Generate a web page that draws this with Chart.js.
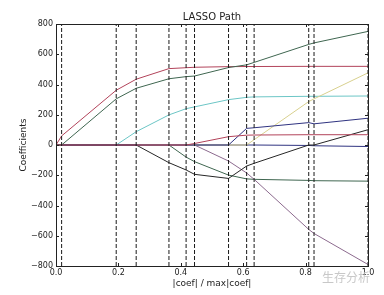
<!DOCTYPE html>
<html><head><meta charset="utf-8">
<script src="https://cdn.jsdelivr.net/npm/chart.js@4/dist/chart.umd.min.js"></script>
<style>html,body{margin:0;padding:0;background:#fff;}#wrap{width:384px;height:295px;}</style>
</head><body><div id="wrap"><canvas id="c" width="384" height="295"></canvas></div>
<script>
// Breakpoints of the LARS/LASSO path (|coef| / max|coef|)
const breakpoints = [0, 0.018, 0.193, 0.257, 0.362, 0.417, 0.444, 0.553, 0.611, 0.635, 0.81, 0.827, 1.0];
// Coefficient paths, one value per breakpoint
const age = [0, 0, 0, 0, 0, 0, 0, 0, 0, 0, -3, -5, -10];
const sex = [0, 0, 0, 0, 0, -80, -110, -199, -224, -227, -234, -236, -239];
const bmi = [0, 60, 362, 435, 505, 511, 514, 518, 519, 519, 520, 520, 520];
const bp  = [0, 0, 0, 88, 199, 240, 252, 300, 315, 318, 322, 322, 324];
const s1  = [0, 0, 0, 0, 0, 0, 0, -106, -185, -227, -558, -585, -790];
const s2  = [0, 0, 0, 0, 0, 0, 0, 0, 0, 35, 287, 305, 477];
const s3  = [0, 0, 0, 0, -117, -165, -194, -221, -139, -121, 0, 0, 101];
const s4  = [0, 0, 0, 0, 0, 0, 0, 0, 110, 114, 148, 140, 177];
const s5  = [0, 0, 305, 375, 438, 452, 456, 512, 530, 546, 665, 675, 751];
const s6  = [0, 0, 0, 0, 0, 0, 10, 55, 65, 66, 68, 68, 68];
const featureNames = ['age','sex','bmi','bp','s1','s2','s3','s4','s5','s6'];
const featureValues = [age, sex, bmi, bp, s1, s2, s3, s4, s5, s6];
const xTicks = [0, 0.2, 0.4, 0.6, 0.8, 1.0];
const yTicks = [-800, -600, -400, -200, 0, 200, 400, 600, 800];
const title = 'LASSO Path';
const xLabel = '|coef| / max|coef|';
const yLabel = 'Coefficients';
const watermark = '生存分析';

const palette = ['#2f3380', '#3f6650', '#b2435a', '#6cc6c6', '#8c6a8e', '#d8d08e', '#262626', '#2f3380', '#3f6650', '#b2435a'];

const datasets = [];
featureValues.forEach((vals, i) => {
  datasets.push({
    label: featureNames[i],
    data: breakpoints.map((x, k) => ({x: x, y: vals[k]})),
    borderColor: palette[i], borderWidth: 1, pointRadius: 0, tension: 0, fill: false,
    order: 10 - i
  });
});
breakpoints.forEach((b) => {
  datasets.push({
    label: 'bp' + b,
    data: [{x: b, y: yTicks[0]}, {x: b, y: yTicks[yTicks.length - 1]}],
    borderColor: '#1a1a1a', borderWidth: 1, borderDash: [4, 2], pointRadius: 0, fill: false,
    order: 0
  });
});

const fam = 'DejaVu Sans';
const decor = {
  id: 'decor',
  afterDraw(chart) {
    const ctx = chart.ctx, a = chart.chartArea;
    const xs = chart.scales.x, ys = chart.scales.y;
    ctx.save();
    ctx.strokeStyle = '#222'; ctx.lineWidth = 1;
    ctx.strokeRect(Math.round(a.left) + 0.5, Math.round(a.top) + 0.5, Math.round(a.right - a.left), Math.round(a.bottom - a.top));
    ctx.beginPath();
    yTicks.forEach(v => {
      const y = Math.round(ys.getPixelForValue(v)) + 0.5;
      ctx.moveTo(a.left, y); ctx.lineTo(a.left + 3, y);
      ctx.moveTo(a.right, y); ctx.lineTo(a.right - 3, y);
    });
    xTicks.forEach(v => {
      const x = Math.round(xs.getPixelForValue(v)) + 0.5;
      ctx.moveTo(x, a.bottom); ctx.lineTo(x, a.bottom - 3);
      ctx.moveTo(x, a.top); ctx.lineTo(x, a.top + 3);
    });
    ctx.stroke();
    // title centred over the plot area
    ctx.fillStyle = '#222';
    ctx.font = '10px "' + fam + '"';
    ctx.textAlign = 'center'; ctx.textBaseline = 'middle';
    ctx.fillText(title, (a.left + a.right) / 2, 17);
    // watermark
    ctx.fillStyle = '#c8c8c8';
    ctx.font = '12px "Noto Sans CJK SC"';
    ctx.textAlign = 'left';
    ctx.fillText(watermark, 322, 277);
    ctx.restore();
  }
};

new Chart(document.getElementById('c'), {
  type: 'line',
  data: { datasets: datasets },
  options: {
    responsive: false, animation: false, devicePixelRatio: 1,
    layout: { padding: { left: 0, right: 16, top: 24, bottom: 0 } },
    plugins: {
      legend: { display: false }, tooltip: { enabled: false }, title: { display: false }
    },
    scales: {
      x: {
        type: 'linear', min: 0, max: 1,
        afterBuildTicks(s) { s.ticks = xTicks.map(v => ({value: v})); },
        afterFit(s) { s.height = 29; },
        grid: { display: false, drawTicks: false }, border: { display: false },
        ticks: { color: '#222', font: { family: fam, size: 8 }, padding: 2, maxRotation: 0,
          callback: v => v.toFixed(1) },
        title: { display: true, text: xLabel, color: '#222', font: { family: fam, size: 9 }, padding: { top: 0, bottom: 6 } }
      },
      y: {
        type: 'linear', min: -800, max: 800,
        afterBuildTicks(s) { s.ticks = yTicks.map(v => ({value: v})); },
        afterFit(s) { s.width = 56; },
        grid: { display: false, drawTicks: false }, border: { display: false },
        ticks: { color: '#222', font: { family: fam, size: 8 }, padding: 3,
          callback: v => String(v).replace('-', '\u2212') },
        title: { display: true, text: yLabel, color: '#222', font: { family: fam, size: 9 }, padding: { top: 18, bottom: 0 } }
      }
    }
  },
  plugins: [decor]
});
</script></body></html>
